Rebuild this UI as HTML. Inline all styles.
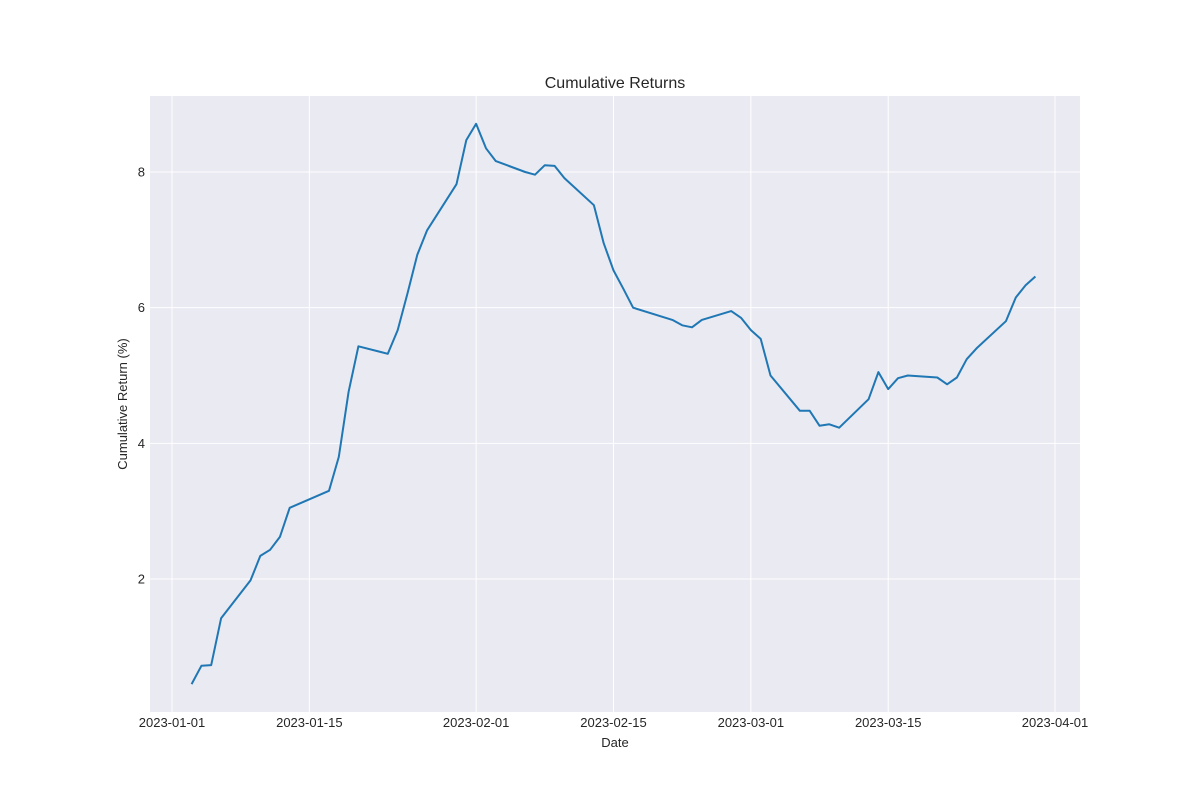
<!DOCTYPE html>
<html><head><meta charset="utf-8"><style>
body{margin:0;background:#fff;font-family:"Liberation Sans",sans-serif}
</style></head><body>
<svg id="chart" width="1200" height="800" xmlns="http://www.w3.org/2000/svg" font-family="Liberation Sans, sans-serif">
<rect width="1200" height="800" fill="#fff"/>
<rect x="150" y="96" width="930" height="616" fill="#eaeaf2"/>
<g id="grid"></g>
<g id="ticks"></g>
<path id="line" fill="none" stroke="#1f77b4" stroke-width="2" stroke-linejoin="round"/>
<text x="615" y="88" text-anchor="middle" font-size="16" fill="#262626">Cumulative Returns</text>
<text x="615" y="747" text-anchor="middle" font-size="13" fill="#262626">Date</text>
<text transform="translate(127,404) rotate(-90)" text-anchor="middle" font-size="13" fill="#262626">Cumulative Return (%)</text>
</svg>
<script>
const dates=["2023-01-03","2023-01-04","2023-01-05","2023-01-06","2023-01-09","2023-01-10","2023-01-11","2023-01-12","2023-01-13","2023-01-17","2023-01-18","2023-01-19","2023-01-20","2023-01-23","2023-01-24","2023-01-25","2023-01-26","2023-01-27","2023-01-30","2023-01-31","2023-02-01","2023-02-02","2023-02-03","2023-02-06","2023-02-07","2023-02-08","2023-02-09","2023-02-10","2023-02-13","2023-02-14","2023-02-15","2023-02-16","2023-02-17","2023-02-21","2023-02-22","2023-02-23","2023-02-24","2023-02-27","2023-02-28","2023-03-01","2023-03-02","2023-03-03","2023-03-06","2023-03-07","2023-03-08","2023-03-09","2023-03-10","2023-03-13","2023-03-14","2023-03-15","2023-03-16","2023-03-17","2023-03-20","2023-03-21","2023-03-22","2023-03-23","2023-03-24","2023-03-27","2023-03-28","2023-03-29","2023-03-30"];
const returns=[0.45,0.72,0.73,1.42,1.98,2.34,2.43,2.62,3.05,3.30,3.80,4.76,5.43,5.32,5.67,6.21,6.78,7.14,7.82,8.47,8.71,8.35,8.16,8.00,7.96,8.10,8.09,7.91,7.51,6.95,6.55,6.28,6.00,5.82,5.74,5.71,5.82,5.95,5.85,5.67,5.54,5.00,4.48,4.48,4.26,4.28,4.23,4.65,5.05,4.80,4.96,5.00,4.97,4.87,4.97,5.24,5.40,5.80,6.15,6.33,6.46];
const xTicks=["2023-01-01","2023-01-15","2023-02-01","2023-02-15","2023-03-01","2023-03-15","2023-04-01"];
const yTicks=[2,4,6,8];
const NS="http://www.w3.org/2000/svg";
const t0=Date.UTC(2023,0,1);
function day(s){const p=s.split("-");return (Date.UTC(+p[0],p[1]-1,+p[2])-t0)/86400000;}
function xs(s){return 172+day(s)*(1055-172)/90;}
function ys(v){return 579-(v-2)*(407/6);}
const grid=document.getElementById("grid"),ticks=document.getElementById("ticks");
function mk(tag,attrs,parent){const e=document.createElementNS(NS,tag);for(const k in attrs)e.setAttribute(k,attrs[k]);parent.appendChild(e);return e;}
xTicks.forEach(t=>{const x=xs(t);
const l=mk("line",{x1:x,x2:x,y1:96,y2:712,stroke:"#fff","stroke-width":1},grid);


const tx=mk("text",{x:x,y:727,"text-anchor":"middle","font-size":13,fill:"#262626"},ticks);
tx.textContent=t;


});
yTicks.forEach(v=>{const y=ys(v);
const l=mk("line",{x1:150,x2:1080,y1:y,y2:y,stroke:"#fff","stroke-width":1},grid);


const tx=mk("text",{x:145,y:y+4.5,"text-anchor":"end","font-size":13,fill:"#262626"},ticks);
tx.textContent=v;


});
document.getElementById("line").setAttribute("d",dates.map((d,i)=>(i?"L":"M")+xs(d).toFixed(1)+","+ys(returns[i]).toFixed(1)).join(""));
</script>
</body></html>
